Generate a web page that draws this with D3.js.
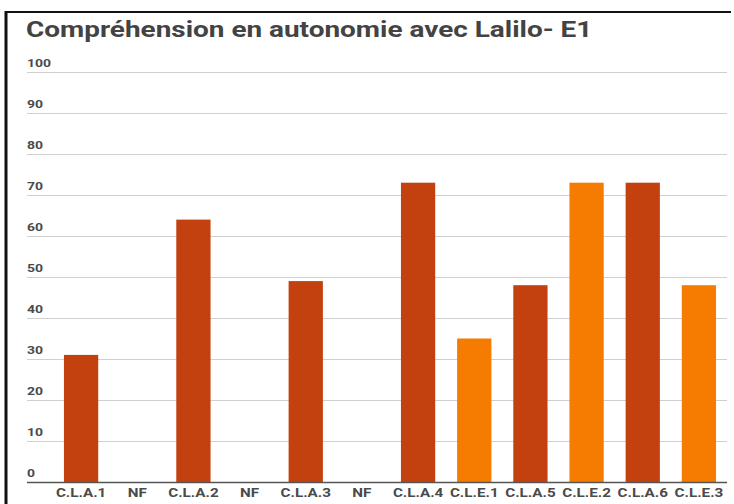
<!DOCTYPE html>
<html><head><meta charset="utf-8">
<script src="https://cdn.jsdelivr.net/npm/d3@7"></script>
<style>body{margin:0;background:#fff}</style>
</head><body>
<svg width="734" height="504"></svg>
<script>
// data
const categories = ["C.L.A.1", "NF", "C.L.A.2", "NF", "C.L.A.3", "NF", "C.L.A.4", "C.L.E.1", "C.L.A.5", "C.L.E.2", "C.L.A.6", "C.L.E.3"];
const values = [31, null, 64, null, 49, null, 73, 35, 48, 73, 73, 48];
const groups = ["A", "A", "A", "A", "A", "A", "A", "E", "A", "E", "A", "E"];
const yTicks = [0, 10, 20, 30, 40, 50, 60, 70, 80, 90, 100];

const svg = d3.select("svg");
const SX = 1.27; // the picture is stretched sideways, so text is too
const colors = { A: "#c2410e", E: "#f57c00" };

// frame
svg.append("line").attr("x1", 6).attr("x2", 6).attr("y1", 11).attr("y2", 504)
    .style("stroke", "#111").style("stroke-width", 3);
svg.append("line").attr("x1", 5).attr("x2", 731).attr("y1", 12).attr("y2", 12)
    .style("stroke", "#111").style("stroke-width", 2);

// title
svg.append("text")
    .attr("transform", `translate(26,37) scale(${SX},1)`)
    .style("font-family", "Roboto").style("font-weight", "bold").style("font-size", "22px")
    .style("fill", "#434343")
    .text("Compréhension en autonomie avec Lalilo- E1");

const y = d3.scaleLinear().domain([0, 100]).range([482, 72]);
const x = d3.scaleBand().domain(d3.range(categories.length)).range([53, 727])
    .paddingInner(0.39).paddingOuter(0.195);

// gridlines + y labels
const g = svg.append("g");
g.selectAll(".grid").data(yTicks).enter().append("line")
    .attr("x1", 27).attr("x2", 727)
    .attr("y1", d => y(d) + 0.5).attr("y2", d => y(d) + 0.5)
    .style("stroke", "#d0d0d0").style("stroke-width", 1);

g.selectAll(".ylab").data(yTicks).enter().append("text")
    .attr("transform", d => `translate(27,${y(d) - 5}) scale(${SX},1)`)
    .style("font-family", "Roboto").style("font-weight", "bold").style("font-size", "11px")
    .style("fill", "#4a4a4a")
    .text(d => d);

// bars
g.selectAll(".bar").data(values.map((v, i) => ({ v, i }))).enter()
    .filter(d => d.v != null)
    .append("rect")
    .attr("x", d => x(d.i))
    .attr("width", x.bandwidth())
    .attr("y", d => y(d.v))
    .attr("height", d => y(0) - y(d.v))
    .style("fill", d => colors[groups[d.i]]);

// baseline
svg.append("line").attr("x1", 27).attr("x2", 727).attr("y1", y(0) + 0.5).attr("y2", y(0) + 0.5)
    .style("stroke", "#555").style("stroke-width", 1.5);

// x labels
g.selectAll(".xlab").data(categories).enter().append("text")
    .attr("transform", (d, i) => `translate(${x(i) + x.bandwidth() / 2},497) scale(${SX},1)`)
    .attr("text-anchor", "middle")
    .style("font-family", "Roboto").style("font-weight", "bold").style("font-size", "12px")
    .style("fill", "#4a4a4a")
    .text(d => d);
</script>
</body></html>
